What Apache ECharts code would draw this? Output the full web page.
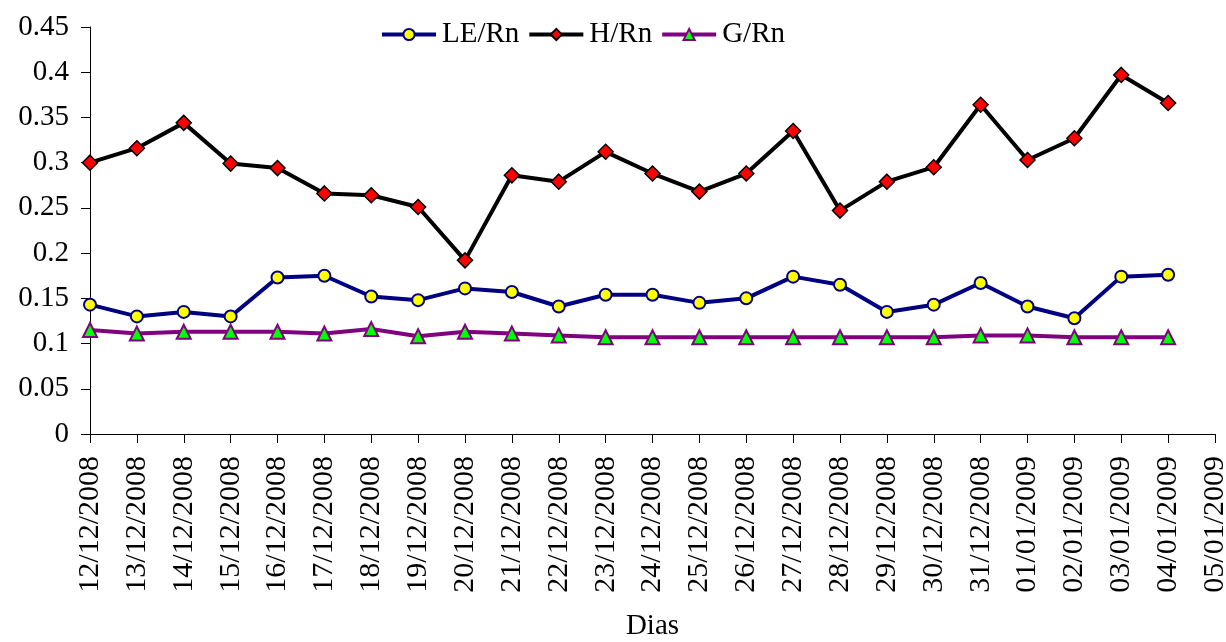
<!DOCTYPE html>
<html><head><meta charset="utf-8">
<script src="https://cdn.jsdelivr.net/npm/echarts@6/dist/echarts.min.js"></script>
<style>html,body{margin:0;padding:0;background:#fff}#c{width:1226px;height:642px}</style>
</head><body><div id="c"></div>
<script>
const categories = ["12/12/2008","13/12/2008","14/12/2008","15/12/2008","16/12/2008","17/12/2008","18/12/2008","19/12/2008","20/12/2008","21/12/2008","22/12/2008","23/12/2008","24/12/2008","25/12/2008","26/12/2008","27/12/2008","28/12/2008","29/12/2008","30/12/2008","31/12/2008","01/01/2009","02/01/2009","03/01/2009","04/01/2009","05/01/2009"];
const leRn = [0.143,0.130,0.135,0.130,0.173,0.175,0.152,0.148,0.161,0.157,0.141,0.154,0.154,0.145,0.150,0.174,0.165,0.135,0.143,0.167,0.141,0.128,0.174,0.176];
const hRn = [0.300,0.316,0.344,0.299,0.294,0.266,0.264,0.251,0.192,0.286,0.279,0.312,0.288,0.268,0.288,0.335,0.247,0.279,0.295,0.364,0.303,0.327,0.397,0.366];
const gRn = [0.115,0.111,0.113,0.113,0.113,0.111,0.116,0.108,0.113,0.111,0.109,0.107,0.107,0.107,0.107,0.107,0.107,0.107,0.107,0.109,0.109,0.107,0.107,0.107];
const yTicks = {min:0, max:0.45, interval:0.05};
const font = "'Liberation Serif','Times New Roman',serif";
const chart = echarts.init(document.getElementById('c'));
chart.setOption({
  animation:false,
  backgroundColor:'#fff',
  textStyle:{fontFamily:font},
  legend:{
    top:15, left:375, itemGap:8, itemWidth:54, itemHeight:14,
    textStyle:{fontFamily:font,fontSize:29,color:'#000',padding:[0,0,0,1]},
    lineStyle:{width:4},
    data:['LE/Rn','H/Rn','G/Rn']
  },
  grid:{left:90,right:11,top:27,bottom:208,containLabel:false,outerBoundsMode:'none'},
  xAxis:{
    type:'category', data:categories, boundaryGap:false,
    name:'Dias', nameLocation:'middle', nameGap:178,
    nameTextStyle:{fontFamily:font,fontSize:29,color:'#000'},
    axisLine:{lineStyle:{color:'#000',width:1}},
    axisTick:{show:true,length:9,lineStyle:{color:'#000'},alignWithLabel:true},
    axisLabel:{rotate:90,interval:0,fontFamily:font,fontSize:30,color:'#000',margin:22},
    splitLine:{show:false}
  },
  yAxis:{
    type:'value', min:yTicks.min, max:yTicks.max, interval:yTicks.interval,
    axisLine:{show:true,lineStyle:{color:'#000',width:1}},
    axisTick:{show:true,length:9,lineStyle:{color:'#000'}},
    axisLabel:{fontFamily:font,fontSize:29,color:'#000',margin:21,formatter:v=>String(+v.toFixed(2))},
    splitLine:{show:false}
  },
  series:[
    {name:'LE/Rn',type:'line',data:leRn,symbol:'circle',symbolSize:12,
     lineStyle:{color:'#000080',width:4},itemStyle:{color:'#ffff00',borderColor:'#000080',borderWidth:2}},
    {name:'H/Rn',type:'line',data:hRn,symbol:'diamond',symbolSize:15,
     lineStyle:{color:'#000000',width:4},itemStyle:{color:'#ff0000',borderColor:'#000',borderWidth:1.5}},
    {name:'G/Rn',type:'line',data:gRn,symbol:'triangle',symbolSize:14,
     lineStyle:{color:'#800080',width:4},itemStyle:{color:'#00ff00',borderColor:'#800080',borderWidth:2}}
  ]
});
</script></body></html>
